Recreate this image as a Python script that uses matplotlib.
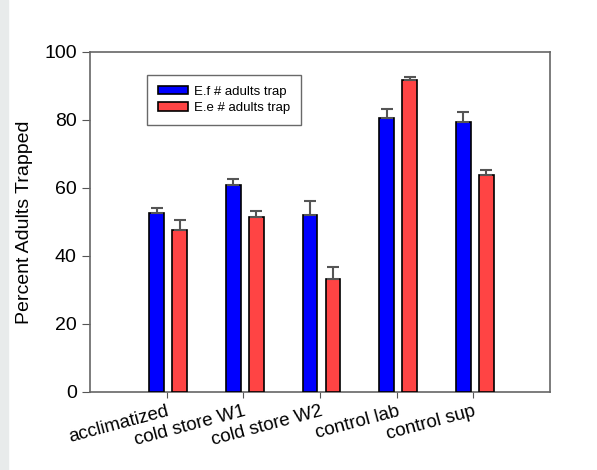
import matplotlib
matplotlib.use("Agg")
import matplotlib.pyplot as plt
import numpy as np
from matplotlib.patches import Rectangle

plt.rcParams['font.family'] = ['Liberation Sans', 'DejaVu Sans']

categories = ["acclimatized", "cold store W1", "cold store W2", "control lab", "control sup"]
ef_values = [52.5, 61.0, 52.0, 80.5, 79.5]
ef_err = [1.5, 1.5, 4.3, 2.7, 2.8]
ee_values = [47.7, 51.5, 33.3, 91.7, 63.7]
ee_err = [2.8, 1.8, 3.5, 0.8, 1.7]
series_labels = ["E.f # adults trap", "E.e # adults trap"]
y_ticks = [0, 20, 40, 60, 80, 100]

fig = plt.figure(figsize=(5.97, 4.70), dpi=100)
fig.patches.append(Rectangle((0, 0), 8/597, 1, transform=fig.transFigure, color='#e8ebeb', zorder=-1))
ax = fig.add_axes([90/597, 1-392/470, 460/597, 340/470])

x = np.arange(len(categories))
w = 0.19
ecol = '#555555'
ax.bar(x - 0.13, ef_values, w, color='#0000ff', edgecolor='black', linewidth=1.2,
       yerr=[np.zeros(5), ef_err], error_kw=dict(ecolor=ecol, capsize=4, elinewidth=1.5, capthick=1.5),
       label=series_labels[0], zorder=3)
ax.bar(x + 0.17, ee_values, w, color='#ff4444', edgecolor='black', linewidth=1.2,
       yerr=[np.zeros(5), ee_err], error_kw=dict(ecolor=ecol, capsize=4, elinewidth=1.5, capthick=1.5),
       label=series_labels[1], zorder=3)

ax.set_xlim(-1, 5)
ax.set_ylim(0, 100)
ax.set_yticks(y_ticks)
ax.set_xticks(x)
ax.set_xticklabels(categories, rotation=15, ha='right', rotation_mode='anchor', fontsize=13.5)
ax.tick_params(axis='y', labelsize=14, direction='out', length=6, color=ecol)
ax.tick_params(axis='x', direction='out', length=4, color=ecol, pad=4)
for s in ax.spines.values():
    s.set_color('#666666')
    s.set_linewidth(1.2)
ax.set_ylabel("Percent Adults Trapped", fontsize=14, labelpad=8)

leg = ax.legend(loc='upper left', bbox_to_anchor=((147-90)/460, (392-75)/340), fontsize=9.5,
                frameon=True, fancybox=False, edgecolor='#444444', borderpad=0.8,
                handlelength=2.3, handleheight=0.6, labelspacing=0.36, handletextpad=0.45,
                borderaxespad=0)
leg.get_frame().set_linewidth(1.0)

fig.savefig("out.png", dpi=100)
